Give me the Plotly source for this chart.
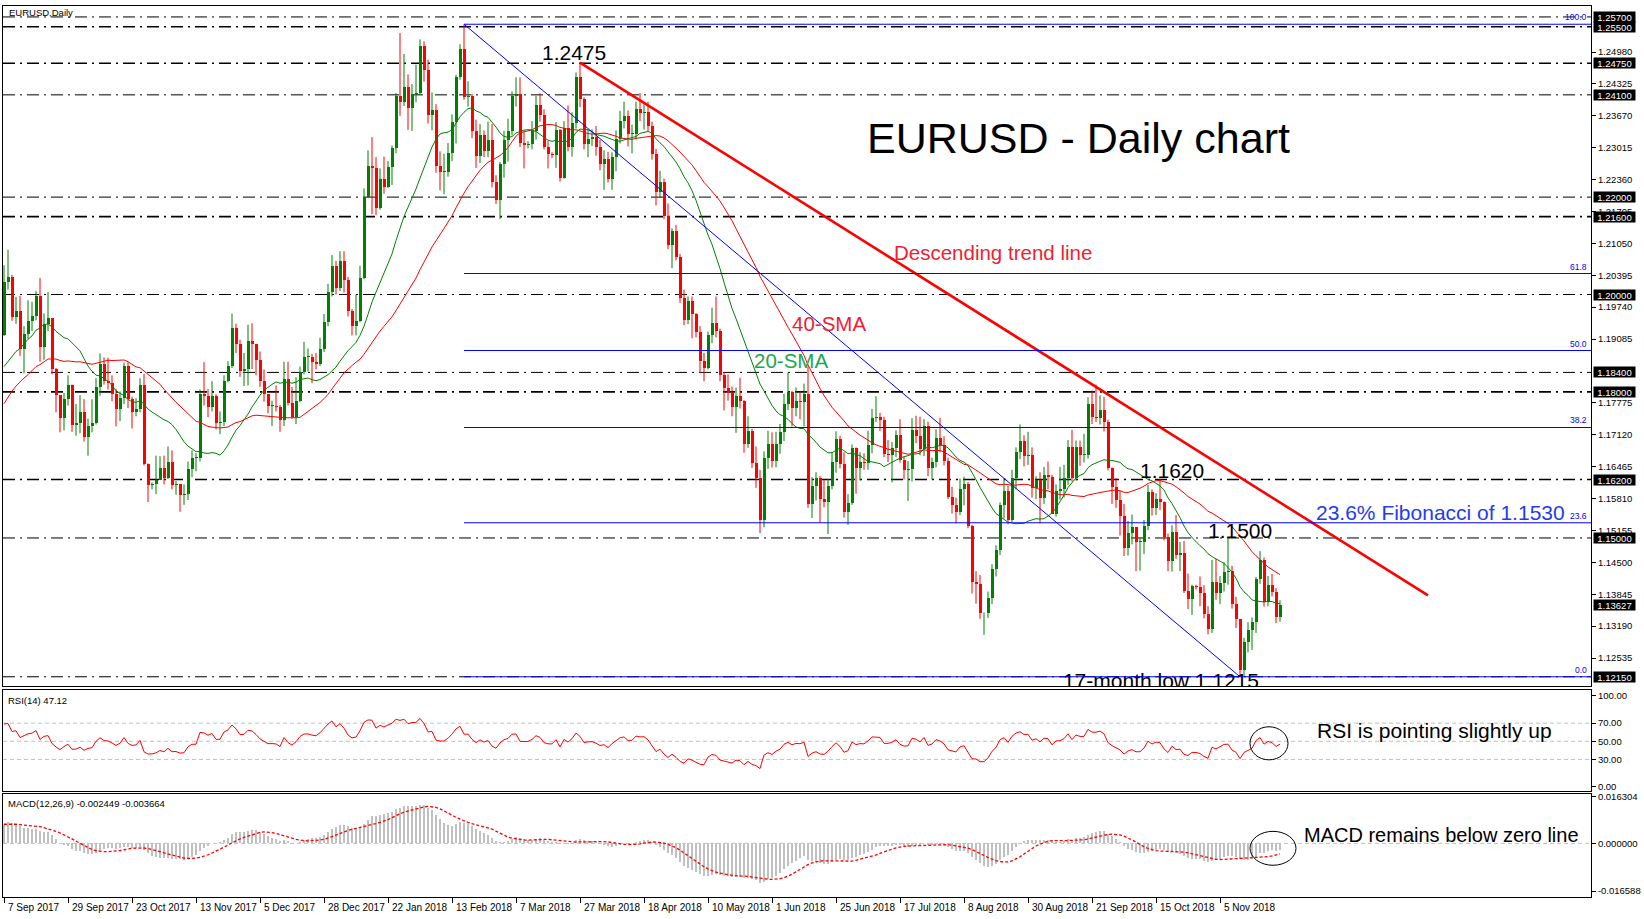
import numpy as np
import pandas as pd
import plotly.graph_objects as go

W, H = 1644, 919

# ---------------- data ----------------
date_labels = ["7 Sep 2017", "29 Sep 2017", "23 Oct 2017", "13 Nov 2017", "5 Dec 2017",
               "28 Dec 2017", "22 Jan 2018", "13 Feb 2018", "7 Mar 2018", "27 Mar 2018",
               "18 Apr 2018", "10 May 2018", "1 Jun 2018", "25 Jun 2018", "17 Jul 2018",
               "8 Aug 2018", "30 Aug 2018", "21 Sep 2018", "15 Oct 2018", "5 Nov 2018"]
date_tick_bars = [0, 16, 32, 48, 64, 80, 96, 112, 128, 144, 160, 176, 192, 208, 224,
                  240, 256, 272, 288, 304]

# closes before the visible window (indicator warm-up only)
pre_close = [1.1401, 1.1464, 1.1414, 1.1400, 1.1470, 1.1479, 1.1557, 1.1515, 1.1633, 1.1665,
             1.1641, 1.1646, 1.1735, 1.1678, 1.1750, 1.1842, 1.1802, 1.1860, 1.1867, 1.1774,
             1.1793, 1.1753, 1.1753, 1.1776, 1.1822, 1.1780, 1.1731, 1.1769, 1.1723, 1.1760,
             1.1816, 1.1762, 1.1800, 1.1800, 1.1924, 1.1979, 1.1967, 1.1888, 1.1909, 1.1860,
             1.1889, 1.1916, 1.1917]
first_open = 1.1917

close = [1.2026, 1.2036, 1.1953, 1.1967, 1.1888, 1.1919, 1.1945, 1.1955, 1.1996, 1.1893,
         1.1940, 1.1951, 1.1848, 1.1793, 1.1747, 1.1786, 1.1815, 1.1733, 1.1736, 1.1758,
         1.1708, 1.1730, 1.1737, 1.1810, 1.1858, 1.1823, 1.1819, 1.1795, 1.1765, 1.1788,
         1.1853, 1.1785, 1.1759, 1.1764, 1.1814, 1.1651, 1.1608, 1.1610, 1.1620, 1.1644,
         1.1623, 1.1657, 1.1609, 1.1610, 1.1588, 1.1591, 1.1642, 1.1664, 1.1665, 1.1795,
         1.1791, 1.1770, 1.1791, 1.1736, 1.1738, 1.1823, 1.1853, 1.1932, 1.1898, 1.1842,
         1.1846, 1.1904, 1.1898, 1.1865, 1.1822, 1.1796, 1.1771, 1.1771, 1.1768, 1.1742,
         1.1827, 1.1777, 1.1748, 1.1782, 1.1840, 1.1871, 1.1872, 1.1862, 1.1857, 1.1888,
         1.1944, 1.2005, 1.2059, 1.2014, 1.2068, 1.2030, 1.1966, 1.1936, 1.1945, 1.2033,
         1.2200, 1.2263, 1.2260, 1.2178, 1.2238, 1.2221, 1.2262, 1.2300, 1.2407, 1.2395,
         1.2427, 1.2383, 1.2411, 1.2414, 1.2510, 1.2462, 1.2369, 1.2379, 1.2263, 1.2251,
         1.2251, 1.2290, 1.2354, 1.2447, 1.2505, 1.2406, 1.2407, 1.2335, 1.2284, 1.2328,
         1.2294, 1.2317, 1.2232, 1.2194, 1.2268, 1.2317, 1.2336, 1.2407, 1.2412, 1.2311,
         1.2307, 1.2310, 1.2336, 1.2389, 1.2369, 1.2303, 1.2288, 1.2287, 1.2337, 1.2240,
         1.2341, 1.2302, 1.2352, 1.2446, 1.2402, 1.2310, 1.2320, 1.2324, 1.2302, 1.2268,
         1.2278, 1.2238, 1.2282, 1.2320, 1.2357, 1.2367, 1.2329, 1.2330, 1.2380, 1.2372,
         1.2374, 1.2346, 1.2288, 1.2210, 1.2232, 1.2162, 1.2102, 1.2131, 1.2078, 1.1992,
         1.1948, 1.1987, 1.1960, 1.1922, 1.1863, 1.1850, 1.1917, 1.1942, 1.1925, 1.1835,
         1.1809, 1.1797, 1.1768, 1.1791, 1.1781, 1.1694, 1.1720, 1.1653, 1.1623, 1.1537,
         1.1665, 1.1692, 1.1658, 1.1694, 1.1717, 1.1775, 1.1800, 1.1767, 1.1782, 1.1779,
         1.1796, 1.1570, 1.1607, 1.1624, 1.1581, 1.1573, 1.1606, 1.1656, 1.1703, 1.1651,
         1.1553, 1.1571, 1.1684, 1.1643, 1.1657, 1.1653, 1.1690, 1.1747, 1.1748, 1.1742,
         1.1672, 1.1671, 1.1685, 1.1711, 1.1660, 1.1640, 1.1642, 1.1721, 1.1710, 1.1683,
         1.1730, 1.1643, 1.1657, 1.1706, 1.1691, 1.1659, 1.1584, 1.1567, 1.1553, 1.1600,
         1.1610, 1.1525, 1.1409, 1.1405, 1.1345, 1.1346, 1.1376, 1.1437, 1.1476, 1.1568,
         1.1597, 1.1537, 1.1624, 1.1676, 1.1700, 1.1668, 1.1671, 1.1603, 1.1620, 1.1583,
         1.1630, 1.1625, 1.1550, 1.1596, 1.1600, 1.1624, 1.1687, 1.1623, 1.1687, 1.1671,
         1.1671, 1.1776, 1.1748, 1.1747, 1.1763, 1.1739, 1.1643, 1.1604, 1.1577, 1.1545,
         1.1479, 1.1510, 1.1523, 1.1491, 1.1492, 1.1524, 1.1594, 1.1561, 1.1581, 1.1574,
         1.1502, 1.1452, 1.1513, 1.1466, 1.1470, 1.1391, 1.1374, 1.1401, 1.1400, 1.1386,
         1.1343, 1.1313, 1.1409, 1.1387, 1.1407, 1.1430, 1.1432, 1.1364, 1.1334, 1.1229,
         1.1286, 1.1310, 1.1327, 1.1415, 1.1454, 1.1369, 1.1404, 1.1389, 1.1337, 1.13627]

high = [1.2060, 1.2092, 1.2040, 1.1995, 1.1997, 1.1935, 1.1988, 1.1985, 1.2007, 1.2034,
        1.1961, 1.2005, 1.1936, 1.1849, 1.1794, 1.1798, 1.1834, 1.1815, 1.1775, 1.1793,
        1.1785, 1.1745, 1.1785, 1.1828, 1.1879, 1.1871, 1.1870, 1.1834, 1.1806, 1.1801,
        1.1860, 1.1861, 1.1790, 1.1787, 1.1828, 1.1837, 1.1653, 1.1614, 1.1669, 1.1668,
        1.1669, 1.1688, 1.1680, 1.1617, 1.1600, 1.1610, 1.1657, 1.1680, 1.1674, 1.1805,
        1.1861, 1.1806, 1.1822, 1.1795, 1.1760, 1.1834, 1.1863, 1.1961, 1.1940, 1.1907,
        1.1880, 1.1938, 1.1941, 1.1882, 1.1883, 1.1846, 1.1795, 1.1782, 1.1813, 1.1773,
        1.1862, 1.1862, 1.1810, 1.1830, 1.1852, 1.1903, 1.1889, 1.1878, 1.1880, 1.1911,
        1.1960, 1.2022, 1.2081, 1.2069, 1.2089, 1.2089, 1.2036, 1.1970, 1.2000, 1.2059,
        1.2218, 1.2296, 1.2323, 1.2282, 1.2259, 1.2283, 1.2274, 1.2306, 1.2414, 1.2537,
        1.2494, 1.2452, 1.2432, 1.2472, 1.2524, 1.2520, 1.2482, 1.2415, 1.2391, 1.2294,
        1.2289, 1.2311, 1.2370, 1.2451, 1.2514, 1.2555, 1.2438, 1.2412, 1.2359, 1.2350,
        1.2337, 1.2355, 1.2350, 1.2245, 1.2272, 1.2336, 1.2361, 1.2417, 1.2446, 1.2446,
        1.2336, 1.2315, 1.2356, 1.2408, 1.2413, 1.2380, 1.2315, 1.2292, 1.2354, 1.2340,
        1.2356, 1.2388, 1.2374, 1.2456, 1.2476, 1.2405, 1.2338, 1.2339, 1.2346, 1.2318,
        1.2296, 1.2293, 1.2292, 1.2337, 1.2377, 1.2396, 1.2378, 1.2349, 1.2396, 1.2414,
        1.2391, 1.2396, 1.2355, 1.2299, 1.2254, 1.2238, 1.2187, 1.2136, 1.2143, 1.2083,
        1.2010, 1.1996, 1.1996, 1.1962, 1.1935, 1.1880, 1.1924, 1.1973, 1.1996, 1.1930,
        1.1840, 1.1836, 1.1811, 1.1809, 1.1829, 1.1783, 1.1750, 1.1724, 1.1688, 1.1640,
        1.1678, 1.1720, 1.1717, 1.1718, 1.1734, 1.1796, 1.1840, 1.1802, 1.1809, 1.1801,
        1.1817, 1.1852, 1.1625, 1.1635, 1.1627, 1.1620, 1.1621, 1.1676, 1.1719, 1.1710,
        1.1676, 1.1590, 1.1692, 1.1686, 1.1676, 1.1674, 1.1720, 1.1765, 1.1791, 1.1757,
        1.1749, 1.1701, 1.1697, 1.1721, 1.1744, 1.1667, 1.1658, 1.1746, 1.1751, 1.1749,
        1.1744, 1.1739, 1.1665, 1.1723, 1.1747, 1.1709, 1.1665, 1.1605, 1.1583, 1.1622,
        1.1626, 1.1615, 1.1527, 1.1432, 1.1424, 1.1347, 1.1390, 1.1446, 1.1485, 1.1573,
        1.1623, 1.1607, 1.1640, 1.1686, 1.1733, 1.1711, 1.1718, 1.1686, 1.1627, 1.1635,
        1.1646, 1.1657, 1.1630, 1.1610, 1.1646, 1.1650, 1.1701, 1.1722, 1.1700, 1.1700,
        1.1714, 1.1789, 1.1803, 1.1815, 1.1793, 1.1790, 1.1743, 1.1645, 1.1623, 1.1597,
        1.1570, 1.1535, 1.1548, 1.1510, 1.1500, 1.1537, 1.1609, 1.1600, 1.1592, 1.1621,
        1.1575, 1.1509, 1.1526, 1.1547, 1.1492, 1.1494, 1.1427, 1.1404, 1.1404, 1.1421,
        1.1403, 1.1360, 1.1455, 1.1457, 1.1422, 1.1450, 1.1500, 1.1443, 1.1379, 1.1330,
        1.1295, 1.1327, 1.1337, 1.1420, 1.1473, 1.1460, 1.1422, 1.1426, 1.1397, 1.1372]

low = [1.1915, 1.2010, 1.1946, 1.1940, 1.1874, 1.1838, 1.1909, 1.1925, 1.1947, 1.1862,
       1.1866, 1.1925, 1.1836, 1.1758, 1.1717, 1.1721, 1.1772, 1.1718, 1.1710, 1.1715,
       1.1698, 1.1669, 1.1717, 1.1733, 1.1792, 1.1815, 1.1805, 1.1781, 1.1729, 1.1740,
       1.1775, 1.1767, 1.1725, 1.1750, 1.1758, 1.1649, 1.1574, 1.1600, 1.1590, 1.1625,
       1.1610, 1.1621, 1.1600, 1.1589, 1.1554, 1.1568, 1.1578, 1.1625, 1.1637, 1.1657,
       1.1772, 1.1748, 1.1760, 1.1723, 1.1713, 1.1730, 1.1820, 1.1849, 1.1880, 1.1831,
       1.1812, 1.1813, 1.1847, 1.1834, 1.1810, 1.1780, 1.1756, 1.1730, 1.1760, 1.1718,
       1.1730, 1.1772, 1.1745, 1.1734, 1.1779, 1.1836, 1.1842, 1.1818, 1.1846, 1.1853,
       1.1882, 1.1935, 1.1996, 1.2000, 1.2007, 1.2004, 1.1955, 1.1916, 1.1916, 1.1943,
       1.2032, 1.2202, 1.2165, 1.2163, 1.2174, 1.2207, 1.2219, 1.2225, 1.2290, 1.2367,
       1.2387, 1.2338, 1.2336, 1.2395, 1.2410, 1.2437, 1.2351, 1.2337, 1.2250, 1.2214,
       1.2206, 1.2242, 1.2274, 1.2310, 1.2441, 1.2400, 1.2386, 1.2321, 1.2260, 1.2270,
       1.2282, 1.2282, 1.2220, 1.2186, 1.2155, 1.2240, 1.2273, 1.2327, 1.2386, 1.2303,
       1.2259, 1.2300, 1.2298, 1.2318, 1.2355, 1.2298, 1.2259, 1.2280, 1.2260, 1.2232,
       1.2238, 1.2294, 1.2283, 1.2341, 1.2385, 1.2298, 1.2282, 1.2305, 1.2285, 1.2255,
       1.2215, 1.2230, 1.2215, 1.2253, 1.2310, 1.2341, 1.2304, 1.2290, 1.2319, 1.2356,
       1.2339, 1.2335, 1.2277, 1.2183, 1.2198, 1.2155, 1.2093, 1.2054, 1.2070, 1.1983,
       1.1937, 1.1939, 1.1910, 1.1912, 1.1839, 1.1822, 1.1846, 1.1900, 1.1912, 1.1822,
       1.1762, 1.1782, 1.1750, 1.1716, 1.1766, 1.1675, 1.1685, 1.1644, 1.1603, 1.1510,
       1.1522, 1.1642, 1.1645, 1.1645, 1.1673, 1.1699, 1.1763, 1.1729, 1.1750, 1.1744,
       1.1729, 1.1562, 1.1541, 1.1577, 1.1531, 1.1563, 1.1508, 1.1600, 1.1634, 1.1643,
       1.1542, 1.1527, 1.1568, 1.1591, 1.1618, 1.1640, 1.1640, 1.1674, 1.1738, 1.1720,
       1.1666, 1.1656, 1.1614, 1.1666, 1.1655, 1.1620, 1.1576, 1.1616, 1.1695, 1.1670,
       1.1668, 1.1627, 1.1620, 1.1645, 1.1676, 1.1649, 1.1580, 1.1550, 1.1530, 1.1547,
       1.1567, 1.1520, 1.1386, 1.1365, 1.1334, 1.1301, 1.1336, 1.1364, 1.1421, 1.1465,
       1.1540, 1.1528, 1.1533, 1.1600, 1.1662, 1.1647, 1.1650, 1.1583, 1.1580, 1.1530,
       1.1570, 1.1600, 1.1550, 1.1544, 1.1579, 1.1583, 1.1609, 1.1616, 1.1618, 1.1648,
       1.1655, 1.1663, 1.1734, 1.1738, 1.1733, 1.1719, 1.1639, 1.1570, 1.1562, 1.1505,
       1.1463, 1.1464, 1.1487, 1.1432, 1.1433, 1.1467, 1.1516, 1.1546, 1.1547, 1.1557,
       1.1495, 1.1432, 1.1431, 1.1457, 1.1432, 1.1387, 1.1354, 1.1342, 1.1394, 1.1360,
       1.1335, 1.1302, 1.1305, 1.1373, 1.1364, 1.1390, 1.1404, 1.1355, 1.1315, 1.1215,
       1.1216, 1.1265, 1.1270, 1.1305, 1.1406, 1.1359, 1.1360, 1.1380, 1.1325, 1.1328]

level_lines = [1.25700, 1.25500, 1.24750, 1.24100, 1.22000, 1.21600, 1.20000,
               1.18400, 1.18000, 1.16200, 1.15000, 1.12150]
bold_levels = [1.25500, 1.24750, 1.21600, 1.18000, 1.16200]
price_ticks = [1.12535, 1.13190, 1.13845, 1.14500, 1.15155, 1.15810, 1.16465, 1.17120,
               1.17775, 1.19085, 1.19740, 1.20395, 1.21050, 1.21705, 1.22360,
               1.23015, 1.23670, 1.24325, 1.24980]
fib_ratios = [0.0, 23.6, 38.2, 50.0, 61.8, 100.0]
trend_x = [144, 356]
trend_y = [1.2476, 1.1382]
rsi_levels = [30, 50, 70]
rsi_ticks = [0, 30, 50, 70, 100]
macd_ticks = [0.016304, 0.0, -0.016588]

# ---------------- geometry helpers (pixel layout) ----------------
PL, PR = 3, 1591            # plot left / right pixel
MAIN = (3, 686)
RSI = (690, 791)
MACD = (794, 898)
X_RANGE = [-0.25, (PR - PL) / 4 - 0.25]


def px(x):
    return x / W


def py(y):
    return 1 - y / H


FONT = "Liberation Sans"

# ---------------- indicators ----------------
allc = pd.Series(pre_close + close, dtype=float)
npre = len(pre_close)
sma20 = allc.rolling(20).mean().iloc[npre:].to_numpy()
sma40 = allc.rolling(40).mean().iloc[npre:].to_numpy()
d = allc.diff()
gain = d.clip(lower=0).ewm(alpha=1 / 14, adjust=False).mean()
loss = (-d.clip(upper=0)).ewm(alpha=1 / 14, adjust=False).mean()
rsi = (100 - 100 / (1 + gain / loss)).iloc[npre:].to_numpy()
ema12 = allc.ewm(span=12, adjust=False).mean()
ema26 = allc.ewm(span=26, adjust=False).mean()
macd_s = ema12 - ema26
signal = macd_s.rolling(9).mean().iloc[npre:].to_numpy()
macd = macd_s.iloc[npre:].to_numpy()

n = len(close)
idx = np.arange(n)
c = np.array(close)
o = np.array([first_open] + close[:-1])
hi = np.maximum(np.array(high), np.maximum(o, c))
lo = np.minimum(np.array(low), np.minimum(o, c))
up = c >= o

fig = go.Figure()

# wicks
for mask, col in ((up, "#008000"), (~up, "#FF0000")):
    xs, ys = [], []
    for i in idx[mask]:
        xs += [i, i, None]
        ys += [lo[i], hi[i], None]
    fig.add_trace(go.Scatter(x=xs, y=ys, mode="lines", line=dict(color=col, width=1),
                             hoverinfo="skip", showlegend=False, xaxis="x", yaxis="y"))
# bodies
MINH = 0.00018
fig.add_trace(go.Bar(x=idx[up], y=np.maximum(c - o, MINH)[up], base=o[up], width=0.75,
                     marker=dict(color="#008000", line=dict(width=0)), showlegend=False,
                     xaxis="x", yaxis="y"))
fig.add_trace(go.Bar(x=idx[~up], y=np.maximum(o - c, MINH)[~up], base=c[~up], width=0.75,
                     marker=dict(color="#FF0000", line=dict(width=0)), showlegend=False,
                     xaxis="x", yaxis="y"))
# moving averages
fig.add_trace(go.Scatter(x=idx, y=sma40, mode="lines", line=dict(color="#FF0000", width=1),
                         showlegend=False, xaxis="x", yaxis="y"))
fig.add_trace(go.Scatter(x=idx, y=sma20, mode="lines", line=dict(color="#008000", width=1),
                         showlegend=False, xaxis="x", yaxis="y"))

# Fibonacci retracement (anchors from the data)
i_hi = int(np.argmax(hi))
i_lo = int(np.argmin(lo))
f_hi, f_lo = hi[i_hi], lo[i_lo]
fig.add_trace(go.Scatter(x=[i_hi, i_lo], y=[f_hi, f_lo], mode="lines",
                         line=dict(color="#0000FF", width=1), showlegend=False,
                         xaxis="x", yaxis="y"))
# descending trend line
fig.add_trace(go.Scatter(x=trend_x, y=trend_y, mode="lines",
                         line=dict(color="#FF0000", width=2.6), showlegend=False,
                         xaxis="x", yaxis="y"))

# label at the bottom of the price panel, clipped by the panel edge
fig.add_trace(go.Scatter(x=[289.25], y=[1.12245], mode="text", text=["17-month low 1.1215"],
                         textposition="bottom center",
                         textfont=dict(family=FONT, size=21, color="black"),
                         cliponaxis=True, showlegend=False, xaxis="x", yaxis="y"))

# RSI
fig.add_trace(go.Scatter(x=idx, y=rsi, mode="lines", line=dict(color="#FF0000", width=1),
                         showlegend=False, xaxis="x2", yaxis="y2"))
# MACD
fig.add_trace(go.Bar(x=idx, y=macd, width=0.3, marker=dict(color="#C0C0C0", line=dict(width=0)),
                     showlegend=False, xaxis="x3", yaxis="y3"))
fig.add_trace(go.Scatter(x=idx, y=signal, mode="lines",
                         line=dict(color="#FF0000", width=1.3, dash="3px,2px"),
                         showlegend=False, xaxis="x3", yaxis="y3"))

shapes = []
for lv in level_lines:
    shapes.append(dict(type="line", xref="x domain", yref="y", x0=0, x1=1, y0=lv, y1=lv,
                       line=dict(color="black", width=1.6 if lv in bold_levels else 1,
                                 dash="12px,5px,2px,5px"), layer="below"))
for r in fib_ratios:
    lv = f_lo + r / 100 * (f_hi - f_lo)
    shapes.append(dict(type="line", xref="x", yref="y", x0=i_hi, x1=X_RANGE[1], y0=lv, y1=lv,
                       line=dict(color="#0000FF", width=1), layer="above"))
for lv in rsi_levels:
    shapes.append(dict(type="line", xref="x2 domain", yref="y2", x0=0, x1=1, y0=lv, y1=lv,
                       line=dict(color="#C0C0C0", width=1, dash="4px,3px"), layer="below"))
shapes.append(dict(type="line", xref="x3 domain", yref="y3", x0=0, x1=1, y0=0, y1=0,
                   line=dict(color="#C0C0C0", width=1, dash="4px,3px"), layer="below"))
# highlight circles
shapes.append(dict(type="circle", xref="x2", yref="y2", x0=311.5, x1=321.0, y0=29.5, y1=66.0,
                   line=dict(color="black", width=1)))
shapes.append(dict(type="circle", xref="x3", yref="y3", x0=311.5, x1=323.0, y0=-0.0076,
                   y1=0.0042, line=dict(color="black", width=1)))

ann = []


def text(t, x, y, size, color="black", xanchor="center", yanchor="middle", **kw):
    ann.append(dict(text=t, x=px(x), y=py(y), xref="paper", yref="paper", showarrow=False,
                    xanchor=xanchor, yanchor=yanchor,
                    font=dict(family=FONT, size=size, color=color), **kw))


text("EURUSD,Daily", 7, 9.5, 9.5, xanchor="left")
text("1.2475", 574, 50, 21)
text("EURUSD - Daily chart", 1078, 136, 43)
text("Descending trend line", 993, 251, 20.5, color="#F01E32")
text("40-SMA", 829, 322, 20.5, color="#F01E32")
text("20-SMA", 791, 359, 20.5, color="#20A850")
text("1.1620", 1172, 470, 21)
text("1.1500", 1240, 530, 21)
text("23.6% Fibonacci of 1.1530", 1440, 512, 21, color="#1E3CF0")
text("RSI is pointing slightly up", 1434, 731, 21)
text("MACD remains below zero line", 1441, 836, 20)
text("RSI(14) 47.12", 6, 701, 9.5, xanchor="left")
text("MACD(12,26,9) -0.002449 -0.003664", 6, 804, 9.5, xanchor="left")

# fib level labels
for r in fib_ratios:
    lv = f_lo + r / 100 * (f_hi - f_lo)
    ann.append(dict(text=f"{r:.1f}", x=px(PR - 2), y=lv, xref="paper", yref="y",
                    showarrow=False, xanchor="right", yanchor="bottom",
                    font=dict(family=FONT, size=8.5, color="#0000FF")))

# black price boxes on the scale
for lv in level_lines + [close[-1]]:
    ann.append(dict(text=f"{lv:.5f}", x=px(PR + 2), y=lv, xref="paper", yref="y",
                    showarrow=False, xanchor="left", yanchor="middle", bgcolor="black",
                    borderpad=0, width=41, height=10, align="center",
                    font=dict(family=FONT, size=9.5, color="white")))

# date labels
for b, lab in zip(date_tick_bars, date_labels):
    ann.append(dict(text=lab, x=b + 0.4, y=py(MACD[1] + 3), xref="x3", yref="paper",
                    showarrow=False, xanchor="left", yanchor="top",
                    font=dict(family=FONT, size=10, color="black")))

axis_common = dict(showline=True, mirror=True, linecolor="black", linewidth=1,
                   showgrid=False, zeroline=False)
xdom = [px(PL), px(PR)]

fig.update_layout(
    width=W, height=H, margin=dict(l=0, r=0, t=0, b=0),
    paper_bgcolor="white", plot_bgcolor="white", barmode="overlay", bargap=0,
    showlegend=False, hovermode=False,
    font=dict(family=FONT, size=9.5, color="black"),
    xaxis=dict(domain=xdom, range=X_RANGE, anchor="y", showticklabels=False, ticks="",
               **axis_common),
    yaxis=dict(domain=[py(MAIN[1]), py(MAIN[0])], range=[1.11960, 1.25925], anchor="x",
               side="right", tickvals=price_ticks, ticktext=[f"{v:.5f}" for v in price_ticks],
               ticks="outside", ticklen=4, tickcolor="black",
               tickfont=dict(family=FONT, size=9.5), **axis_common),
    xaxis2=dict(domain=xdom, range=X_RANGE, anchor="y2", matches="x", showticklabels=False,
                ticks="", **axis_common),
    yaxis2=dict(domain=[py(RSI[1]), py(RSI[0])], range=[-4.4, 106.6], anchor="x2",
                side="right", tickvals=rsi_ticks, ticktext=[f"{v:.2f}" for v in rsi_ticks],
                ticks="outside", ticklen=4, tickcolor="black",
                tickfont=dict(family=FONT, size=9.5), **axis_common),
    xaxis3=dict(domain=xdom, range=X_RANGE, anchor="y3", matches="x", showticklabels=False,
                tickvals=date_tick_bars, ticks="outside", ticklen=5, tickcolor="black",
                **axis_common),
    yaxis3=dict(domain=[py(MACD[1]), py(MACD[0])], range=[-0.018666, 0.017343], anchor="x3",
                side="right", tickvals=macd_ticks, ticktext=[f"{v:.6f}" for v in macd_ticks],
                ticks="outside", ticklen=4, tickcolor="black",
                tickfont=dict(family=FONT, size=9.5), **axis_common),
    shapes=shapes, annotations=ann,
)

fig.write_html("out.html", config={"displayModeBar": False, "staticPlot": True},
               post_script="document.body.style.margin='0';document.body.style.overflow='hidden';")
